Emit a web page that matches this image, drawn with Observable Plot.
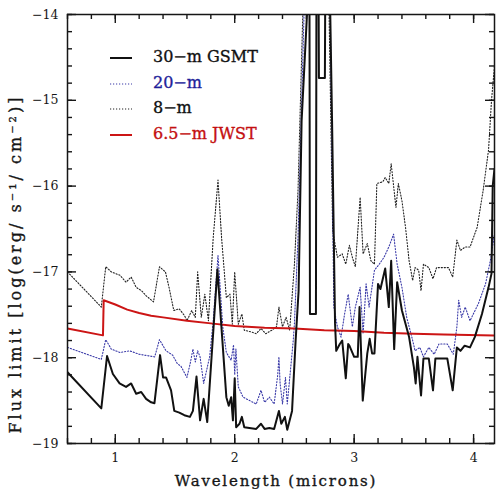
<!DOCTYPE html>
<html>
<head>
<meta charset="utf-8">
<script src="https://cdn.jsdelivr.net/npm/d3@7"></script>
<script src="https://cdn.jsdelivr.net/npm/@observablehq/plot@0.6"></script>
<style>
  body { margin: 0; background: #fff; }
  #chart { position: relative; width: 496px; height: 489px; overflow: hidden; }
  .legend { position: absolute; left: 0; top: 0; font-family: "DejaVu Serif", serif; font-size: 16px; -webkit-text-stroke: 0.35px currentColor; }
  .legend .row { position: absolute; white-space: nowrap; line-height: 1; }
  .legend svg { position: absolute; left: 0; top: 0; overflow: visible; }
</style>
</head>
<body>
<div id="chart"></div>
<script>
// Point-source flux limits, log(erg / s / cm^2), versus wavelength in microns.
// Values of -13 sit above the plotted range (opaque atmosphere) and are clipped.

const gsmtWave = [0.6, 0.883, 0.931, 0.98, 1.036, 1.09, 1.133, 1.175, 1.217, 1.258, 1.30, 1.328, 1.375, 1.40, 1.425, 1.467, 1.494, 1.536, 1.578, 1.625, 1.65, 1.68, 1.71, 1.74, 1.77, 1.855, 1.93, 1.95, 1.97, 1.985, 2.0, 2.012, 2.04, 2.06, 2.08, 2.18, 2.22, 2.25, 2.29, 2.33, 2.37, 2.39, 2.42, 2.44, 2.48, 2.51, 2.535, 2.56, 2.605, 2.61, 2.625, 2.63, 2.68, 2.685, 2.70, 2.705, 2.755, 2.76, 2.79, 2.80, 2.815, 2.84, 2.85, 2.88, 2.90, 2.93, 2.95, 2.96, 3.0, 3.03, 3.045, 3.072, 3.11, 3.13, 3.15, 3.17, 3.20, 3.22, 3.26, 3.29, 3.31, 3.335, 3.36, 3.40, 3.46, 3.50, 3.515, 3.53, 3.56, 3.58, 3.625, 3.66, 3.68, 3.78, 3.825, 3.86, 3.89, 3.925, 3.97, 4.01, 4.07, 4.125, 4.15, 4.16, 4.175];
const gsmtFlux = [-18.17, -18.59, -17.98, -18.19, -18.30, -18.34, -18.30, -18.42, -18.40, -18.48, -18.52, -18.53, -17.97, -18.23, -18.23, -18.38, -18.62, -18.64, -18.67, -18.69, -18.62, -18.22, -18.73, -18.48, -18.75, -16.97, -18.46, -18.56, -18.46, -18.73, -18.24, -18.81, -18.77, -18.69, -18.81, -18.83, -18.77, -18.83, -18.82, -18.83, -18.62, -18.77, -18.69, -18.84, -18.62, -17.80, -17.22, -15.24, -14.0, -13, -13, -17.49, -17.49, -13, -13, -14.74, -14.74, -13, -13, -14.0, -15.24, -17.6, -17.92, -17.84, -17.80, -18.24, -17.84, -17.86, -17.99, -17.99, -17.41, -18.50, -17.95, -17.78, -17.95, -17.95, -17.14, -17.20, -16.96, -17.41, -16.87, -17.90, -17.12, -17.45, -17.76, -18.11, -18.30, -17.99, -18.44, -18.01, -18.01, -18.38, -18.01, -18.01, -18.38, -17.88, -17.92, -17.86, -17.88, -17.76, -17.49, -17.18, -17.02, -16.0, -15.8];

const twentyWave = [0.6, 0.883, 0.92, 0.967, 1.04, 1.12, 1.20, 1.33, 1.37, 1.425, 1.48, 1.52, 1.55, 1.60, 1.63, 1.65, 1.67, 1.69, 1.71, 1.74, 1.79, 1.82, 1.86, 1.90, 1.93, 1.97, 1.99, 2.0, 2.01, 2.03, 2.07, 2.125, 2.18, 2.22, 2.25, 2.29, 2.33, 2.36, 2.37, 2.38, 2.40, 2.425, 2.44, 2.49, 2.50, 2.53, 2.58, 2.59, 2.79, 2.80, 2.83, 2.86, 2.89, 2.92, 2.95, 2.985, 3.01, 3.05, 3.075, 3.10, 3.125, 3.17, 3.21, 3.25, 3.29, 3.32, 3.33, 3.36, 3.40, 3.44, 3.49, 3.51, 3.55, 3.58, 3.625, 3.67, 3.71, 3.78, 3.83, 3.86, 3.875, 3.90, 3.93, 3.97, 4.04, 4.10, 4.14, 4.175];
const twentyFlux = [-17.88, -18.02, -17.79, -17.90, -17.94, -17.92, -17.96, -17.99, -17.79, -17.92, -17.97, -18.07, -18.10, -18.23, -18.05, -17.90, -18.05, -17.92, -17.99, -18.30, -17.99, -17.57, -16.81, -17.64, -17.94, -18.03, -17.85, -18.20, -17.90, -18.34, -18.46, -18.50, -18.54, -18.38, -18.52, -18.46, -18.54, -18.20, -17.99, -18.30, -18.54, -18.23, -18.54, -17.80, -17.60, -16.60, -14.0, -13, -13, -14.0, -17.41, -17.64, -17.76, -17.49, -17.26, -17.64, -17.41, -17.18, -17.72, -17.14, -17.41, -16.98, -16.91, -16.83, -16.71, -16.60, -16.56, -16.91, -17.18, -17.53, -17.80, -17.92, -17.88, -17.99, -17.88, -17.96, -17.84, -17.84, -17.96, -17.64, -17.33, -17.53, -17.41, -17.57, -17.37, -17.14, -16.87, -16.56];

const eightWave = [0.6, 0.883, 0.92, 0.967, 1.04, 1.09, 1.133, 1.175, 1.22, 1.26, 1.32, 1.37, 1.42, 1.45, 1.49, 1.535, 1.58, 1.60, 1.64, 1.67, 1.69, 1.72, 1.75, 1.78, 1.82, 1.86, 1.89, 1.93, 1.96, 1.98, 2.0, 2.03, 2.06, 2.08, 2.14, 2.18, 2.22, 2.26, 2.31, 2.35, 2.37, 2.40, 2.43, 2.46, 2.50, 2.53, 2.57, 2.58, 2.78, 2.79, 2.82, 2.86, 2.90, 2.93, 2.96, 2.985, 3.01, 3.05, 3.075, 3.11, 3.14, 3.17, 3.19, 3.24, 3.26, 3.29, 3.31, 3.35, 3.37, 3.40, 3.43, 3.46, 3.49, 3.51, 3.54, 3.56, 3.58, 3.625, 3.66, 3.69, 3.79, 3.825, 3.86, 3.89, 3.93, 3.97, 4.03, 4.08, 4.125, 4.15, 4.175];
const eightFlux = [-17.00, -17.41, -16.94, -17.00, -17.04, -17.12, -17.06, -17.18, -17.22, -17.28, -17.35, -16.94, -17.00, -17.18, -17.45, -17.43, -17.51, -17.57, -17.45, -17.53, -17.00, -17.53, -17.26, -17.57, -16.60, -15.93, -16.60, -17.30, -17.26, -17.61, -17.00, -17.61, -17.49, -17.68, -17.70, -17.72, -17.66, -17.72, -17.68, -17.64, -17.41, -17.64, -17.53, -17.68, -16.91, -16.05, -14.0, -13, -13, -14.0, -16.52, -16.83, -16.79, -16.91, -16.69, -16.83, -16.94, -16.13, -16.79, -16.67, -16.87, -16.91, -15.97, -15.95, -15.90, -15.97, -15.74, -16.25, -15.97, -16.17, -16.48, -16.87, -17.10, -16.95, -16.98, -17.22, -16.91, -16.95, -17.08, -16.95, -16.95, -17.06, -16.63, -16.75, -16.71, -16.71, -16.48, -16.05, -15.58, -15.0, -14.6];

const jwstWave = [0.6, 0.897, 0.903, 1.0, 1.1, 1.2, 1.3, 1.4, 1.6, 1.8, 2.0, 2.25, 2.5, 2.75, 3.0, 3.25, 3.5, 3.75, 4.175];
const jwstFlux = [-17.66, -17.74, -17.33, -17.38, -17.44, -17.48, -17.51, -17.53, -17.57, -17.60, -17.63, -17.65, -17.66, -17.68, -17.69, -17.71, -17.72, -17.73, -17.74];

const seriesNames  = ["30−m GSMT", "20−m", "8−m", "6.5−m JWST"];
const seriesColors = ["#111111", "#3a3aa8", "#222222", "#cc1515"];
const textColors   = ["#111111", "#1f1f9a", "#111111", "#c41010"];
const seriesWidths = [2, 1.1, 1.1, 2];
const seriesDashes = [null, "1.2,1.8", "1.2,1.8", null];
const seriesData   = [[gsmtWave, gsmtFlux], [twentyWave, twentyFlux], [eightWave, eightFlux], [jwstWave, jwstFlux]];

const xDomain = [0.6, 4.175];
const yDomain = [-19, -14];
const xMajor = [1, 2, 3, 4];
const xMinor = d3.range(0.6, 4.19, 0.2).map(v => +v.toFixed(1));
const yMajor = [-19, -18, -17, -16, -15, -14];
const yMinor = d3.range(-19, -13.99, 0.2).map(v => +v.toFixed(1));

const W = 496, H = 489;
const M = {left: 67, right: 2, top: 14, bottom: 46};
const innerW = W - M.left - M.right, innerH = H - M.top - M.bottom;
const majorLen = 9, minorLen = 5;
// tick lengths expressed in data units of each axis
const xUnit = (xDomain[1] - xDomain[0]) / innerW;
const yUnit = (yDomain[1] - yDomain[0]) / innerH;

const font = '"DejaVu Serif", serif';
const minus = d => (d < 0 ? "−" + Math.abs(d) : String(d));
const ink = "#161616";

// draw order: dotted curves first, then JWST, then the 30-m curve on top
const drawOrder = [2, 1, 3, 0];
const lines = drawOrder.map(i => {
  const [w, f] = seriesData[i];
  const rows = w.map((x, j) => ({wave: x, flux: f[j]}));
  return Plot.line(rows, {
    x: "wave", y: "flux",
    stroke: seriesColors[i], strokeWidth: seriesWidths[i],
    strokeDasharray: seriesDashes[i], strokeLinejoin: "round",
    clip: true
  });
});

// inward ticks on all four sides of the frame
const tickOpts = {stroke: ink, strokeWidth: 1.4};
const xTicks = (values, len) => [
  Plot.ruleX(values, {x: d => d, y1: yDomain[0], y2: yDomain[0] + len * yUnit, ...tickOpts}),
  Plot.ruleX(values, {x: d => d, y1: yDomain[1], y2: yDomain[1] - len * yUnit, ...tickOpts})
];
const yTicks = (values, len) => [
  Plot.ruleY(values, {y: d => d, x1: xDomain[0], x2: xDomain[0] + len * xUnit, ...tickOpts}),
  Plot.ruleY(values, {y: d => d, x1: xDomain[1], x2: xDomain[1] - len * xUnit, ...tickOpts})
];
const ticks = [...xTicks(xMinor, minorLen), ...xTicks(xMajor, majorLen), ...yTicks(yMinor, minorLen), ...yTicks(yMajor, majorLen)];

const chart = Plot.plot({
  width: W, height: H,
  marginLeft: M.left, marginRight: M.right, marginTop: M.top, marginBottom: M.bottom,
  style: {fontFamily: font, background: "#fff", color: ink},
  x: {domain: xDomain},
  y: {domain: yDomain},
  marks: [
    ...lines,
    ...ticks,
    Plot.axisX(xMajor, {anchor: "bottom", tickSize: 0, tickPadding: 10, tickFormat: minus, label: null,
      fontSize: 12.5, fill: ink, stroke: ink, strokeWidth: 0.35}),
    Plot.axisY(yMajor, {anchor: "left", tickSize: 0, tickPadding: 9, tickFormat: minus, label: null,
      fontSize: 12.5, fill: ink, stroke: ink, strokeWidth: 0.35}),
    Plot.frame({stroke: ink, strokeWidth: 1.5}),
    // axis titles
    Plot.text(["Wavelength (microns)"], {frameAnchor: "bottom", lineAnchor: "middle", textAnchor: "middle",
      dy: 38, dx: -5, fontSize: 15, fill: ink, stroke: ink, strokeWidth: 0.35}),
    Plot.text(["Flux limit [log(erg/ s⁻¹/ cm⁻²)]"], {frameAnchor: "left", lineAnchor: "middle", textAnchor: "middle",
      dx: -52, dy: 35, rotate: -90, fontSize: 16, fill: ink, stroke: ink, strokeWidth: 0.35})
  ]
});

// widen the spacing of the two axis titles
d3.select(chart).selectAll("text").each(function () {
  const t = this.textContent;
  if (t === "Wavelength (microns)") this.setAttribute("letter-spacing", "1.8");
  if (t.startsWith("Flux limit")) this.setAttribute("letter-spacing", "3");
});

const host = document.getElementById("chart");
host.appendChild(chart);

// legend in the upper-left corner of the plotting area
const legend = d3.select(host).append("div").attr("class", "legend");
seriesNames.forEach((name, i) => {
  const top = 58 + i * 25.7;
  const svg = legend.append("svg").attr("width", 30).attr("height", 4)
    .style("left", "110px").style("top", (top - 2) + "px");
  svg.append("line").attr("x1", 0).attr("x2", 22).attr("y1", 2).attr("y2", 2)
    .attr("stroke", seriesColors[i]).attr("stroke-width", seriesWidths[i])
    .attr("stroke-dasharray", seriesDashes[i]);
  legend.append("div").attr("class", "row")
    .style("left", "153px").style("top", (top - 9) + "px")
    .style("color", textColors[i]).text(name);
});
</script>
</body>
</html>
